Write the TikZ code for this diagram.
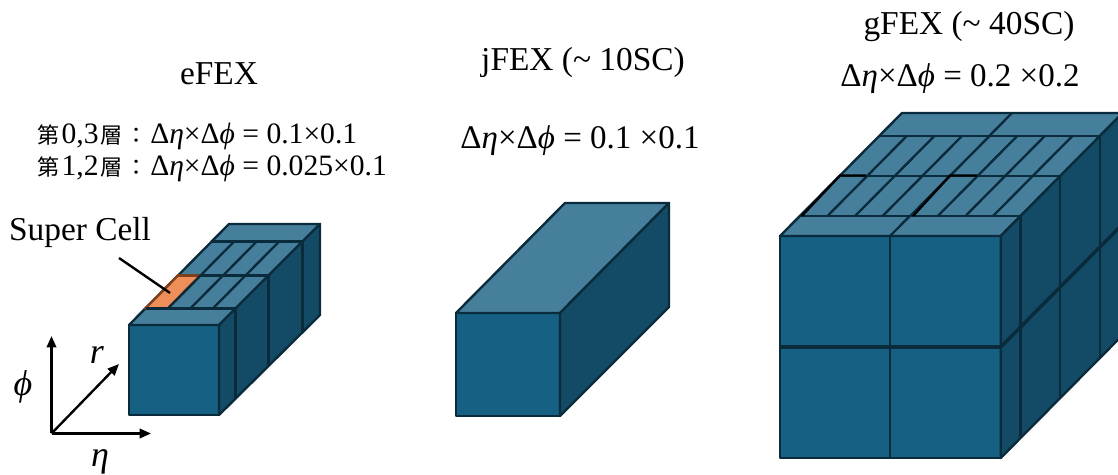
\documentclass[tikz,border=0pt]{standalone}
\usepackage{amsmath,amssymb}
\usepackage{xcolor}
\usepackage{fontspec}
\setmainfont{Liberation Serif}
\newfontfamily\cjkfont{Noto Sans CJK JP}
\usetikzlibrary{positioning,arrows.meta}
\definecolor{frontcol}{HTML}{166083}
\definecolor{topcol}{HTML}{467F9C}
\definecolor{sidecol}{HTML}{134B66}
\definecolor{edgecol}{HTML}{0A2B3B}
\definecolor{cellcol}{HTML}{EE8E58}
\definecolor{celledge}{HTML}{7F3F1C}
\newcommand{\detadphi}{Δ\textit{η}×Δ\textit{ϕ}}
\newcommand{\cjksmall}[1]{{\cjkfont\fontsize{12.6}{14}\selectfont #1}}

\begin{document}
\begin{tikzpicture}[
    x=0.02cm, y=-0.02cm,
    edge/.style={draw=edgecol, line width=1.35pt, line join=round},
    front/.style={edge, fill=frontcol},
    topside/.style={edge, fill=topcol},
    side/.style={edge, fill=sidecol},
    cell/.style={draw=celledge, line width=1.35pt, fill=cellcol},
    title/.style={font=\fontsize{19}{22}\selectfont, anchor=base},
    reso/.style={font=\fontsize{18.8}{22}\selectfont, anchor=base},
    resolow/.style={font=\fontsize{16.85}{20}\selectfont, anchor=base west, inner sep=0pt},
    axlabel/.style={font=\fontsize{20.5}{24}\selectfont},
    axis/.style={-{Triangle[length=2.3mm, width=1.9mm]}, black, line width=1.35pt}
  ]
  \clip (0,0) rectangle (1118,475);
  \fill[white] (0,0) rectangle (1118,475);

  % ---------------- eFEX ----------------
  \node[title] (etitle) at (219,85) {eFEX};
  \node[resolow] (erow1) at (37,144) {\cjksmall{第}\hspace{1.2pt}0,3\hspace{1.2pt}\cjksmall{層}\hspace{1.4pt}\cjksmall{：}\hspace{1.6pt}\detadphi\ = 0.1×0.1};
  \node[resolow] (erow2) at (37,176) {\cjksmall{第}\hspace{1.2pt}1,2\hspace{1.2pt}\cjksmall{層}\hspace{1.4pt}\cjksmall{：}\hspace{1.6pt}\detadphi\ = 0.025×0.1};

  \draw[front] (129,325) rectangle (219,415);
  \draw[topside] (129,325) -- (229,224) -- (320,224) -- (219,325) -- cycle;
  \draw[side] (219,325) -- (320,224) -- (320,315) -- (219,415) -- cycle;
  \draw[cell] (145.5,308.3) -- (178,275.5) -- (200.5,275.5) -- (168,308.3) -- cycle;
  \foreach \t in {0.165,0.49,0.825} {
    \draw[edge] ({129+\t*100},{325-\t*101}) -- ({219+\t*101},{325-\t*101}) -- ++(0,90);
  }
  \draw[celledge, line width=1.35pt] (178,275.5) -- (200.5,275.5);
  \foreach \c in {1,2,3} {
    \draw[edge] ({129+\c*22.5+0.165*100},{325-0.165*101}) -- ({129+\c*22.5+0.825*100},{325-0.825*101});
  }

  \node[title] (scell) at (80,241) {Super Cell};
  \coordinate (sfrom) at (119,258);
  \coordinate (sto) at (170,293);
  \draw[black, line width=1.35pt] (sfrom) -- (sto);

  % axes
  \coordinate (orig) at (51.5,433.5);
  \coordinate (phitip) at (51.5,336);
  \coordinate (etatip) at (151,433.5);
  \coordinate (rtip) at (119,364);
  \draw[axis] (orig) -- (phitip);
  \draw[axis] (orig) -- (etatip);
  \draw[axis] (orig) -- (rtip);
  \node[axlabel] (phil) at (23,387) {\textit{ϕ}};
  \node[axlabel] (rl) at (97,355) {\textit{r}};
  \node[axlabel] (etal) at (100,462) {\textit{η}};

  % ---------------- jFEX ----------------
  \node[title] (jtitle) at (583,71) {jFEX (\textasciitilde\ 10SC)};
  \node[reso] (jres) at (580,149) {\detadphi\ = 0.1 ×0.1};

  \draw[front] (456,313) rectangle (560,416);
  \draw[topside] (456,313) -- (565,203) -- (669,203) -- (560,313) -- cycle;
  \draw[side] (560,313) -- (669,203) -- (669,307) -- (560,416) -- cycle;

  % ---------------- gFEX ----------------
  \node[title] (gtitle) at (969,35) {gFEX (\textasciitilde\ 40SC)};
  \node[reso] (gres) at (960,87) {\detadphi\ = 0.2 ×0.2};

  \draw[front] (780,236) rectangle (1000.7,458);
  \draw[edge] (890,236) -- (890,458);
  \draw[edge, line width=2pt] (780,347) -- (1000.7,347);
  \draw[topside] (780,236) -- (902,113) -- (1122.7,113) -- (1000.7,236) -- cycle;
  \draw[side] (1000.7,236) -- (1122.7,113) -- (1122.7,335) -- (1000.7,458) -- cycle;
  \foreach \t in {0.163,0.488,0.813} {
    \draw[edge] ({780+\t*122},{236-\t*123}) -- ({1000.7+\t*122},{236-\t*123}) -- ++(0,222);
  }
  \draw[edge, line width=2pt] (1000.7,347) -- (1122.7,224);
  \draw[edge] ({890+0*122},236) -- ({890+0.163*122},{236-0.163*123});
  \draw[edge] ({890+0.813*122},{236-0.813*123}) -- ({890+122},113);
  \foreach \c in {1,...,7} {
    \draw[edge] ({780+\c*27.6+0.163*122},{236-0.163*123}) -- ({780+\c*27.6+0.813*122},{236-0.813*123});
  }
  % darker seams on the top face
  \draw[black, line width=1.35pt] (801.7,216) -- (840,175.5) -- (866,175.5);
  \draw[black, line width=1.35pt] (913,216) -- (950,175.5) -- (977,175.5);
\end{tikzpicture}
\end{document}
